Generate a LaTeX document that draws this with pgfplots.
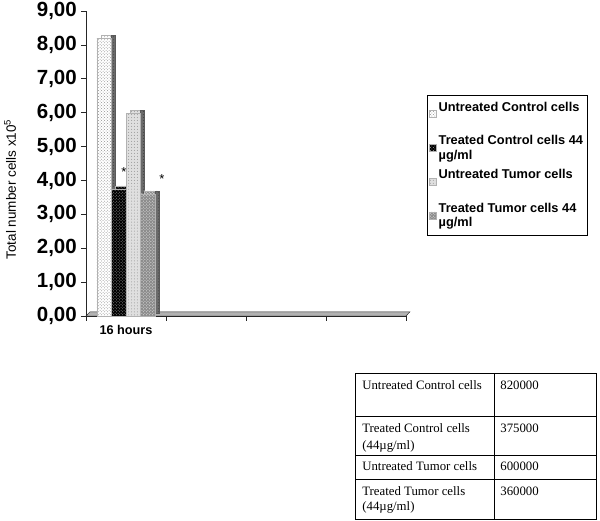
\documentclass[border=0pt]{standalone}
\usepackage{fontspec}
\setmainfont{Liberation Sans}
\newfontfamily\tabfont{Liberation Serif}
\usepackage{pgfplots}
\pgfplotsset{compat=1.18}
\usetikzlibrary{patterns}

% one value per series, category "16 hours" at x=0
\pgfplotstableread{
x v
0 8.20
}\uccells
\pgfplotstableread{
x v
0 3.75
}\tccells
\pgfplotstableread{
x v
0 6.00
}\utcells
\pgfplotstableread{
x v
0 3.60
}\ttcells

\pgfplotsset{
  sideface/.style={ybar, bar width=4bp, fill=black!58, draw=black!65, line width=0.2pt,
    xshift=4bp, yshift=3bp, forget plot, postaction={pattern=dots, pattern color=black!75}},
  topface/.style={ybar, bar width=14.5bp, xshift=4bp, yshift=3bp, forget plot},
  uc/.style={fill=white, draw=gray!60, line width=0.3pt, postaction={pattern=crosshatch dots, pattern color=gray!85}},
  tc/.style={fill=black, draw=gray!60, line width=0.3pt, postaction={pattern=crosshatch dots, pattern color=gray!75}},
  ut/.style={fill=gray!25, draw=gray!60, line width=0.3pt, postaction={pattern=dots, pattern color=gray!80}},
  tt/.style={fill=gray!90, draw=gray!60, line width=0.3pt, postaction={pattern=crosshatch dots, pattern color=white!85!gray}},
}

\begin{document}
\begin{tikzpicture}
\useasboundingbox (0,0) rectangle (600bp,521bp);
\begin{axis}[
  at={(86bp,205bp)}, anchor=south west,
  scale only axis, width=320bp, height=305bp,
  xmin=-0.5, xmax=3.5, ymin=0, ymax=9,
  enlargelimits=false, clip=false,
  axis x line=bottom, axis y line=left,
  axis line style={-, black!85, line width=0.6pt},
  tick align=outside, major tick length=5bp,
  tick style={black!85, line width=0.6pt},
  xtick={-0.5,0.5,1.5,2.5,3.5}, xticklabels={,,,,},
  extra x ticks={0}, extra x tick labels={16 hours},
  extra x tick style={major tick length=0pt,
    tick label style={font=\bfseries\fontsize{12.7bp}{14bp}\selectfont, yshift=-6bp}},
  ytick={0,1,...,9},
  /pgf/number format/assume math mode=true,
  yticklabel={\pgfmathprintnumber[fixed, fixed zerofill, precision=2, use comma]{\tick}},
  yticklabel style={font=\bfseries\fontsize{20.5bp}{24bp}\selectfont, inner sep=1bp, xshift=-3bp},
  ylabel={Total number cells x10\textsuperscript{5}},
  every axis y label/.style={at={(axis description cs:-0.2375,0.415)}, rotate=90, anchor=center,
    font=\fontsize{13.5bp}{15bp}\selectfont},
  legend style={at={(1.0656,0.7246)}, anchor=north west, draw=black, line width=0.7pt,
    inner xsep=2bp, inner ysep=4.5bp, row sep=4.5bp,
    font=\bfseries\fontsize{12.8bp}{14.5bp}\selectfont,
    nodes={inner sep=2bp},
    cells={anchor=west, align=left}},
  legend image code/.code={\draw[#1, line width=0.3pt] (0bp,-3bp) rectangle (7bp,4bp);},
]
% floor slab of the 3-D chart
\addplot[fill=gray!60, draw=gray!30!black, line width=0.4pt, forget plot]
  coordinates {(-0.5,0) (3.5,0) (3.55,0.12) (-0.45,0.12)} --cycle;

% Untreated Control cells
\addplot[topface, uc, bar shift=-21.75bp] table[x=x, y=v] {\uccells};
\addplot[sideface, bar shift=-16.5bp] table[x=x, y=v] {\uccells};
\addplot[ybar, bar width=14.5bp, bar shift=-21.75bp, uc] table[x=x, y=v] {\uccells};
\addlegendentry{Untreated Control cells\\\mbox{}}
% Treated Control cells 44 ug/ml
\addplot[topface, tc, bar shift=-7.25bp] table[x=x, y=v] {\tccells};
\addplot[sideface, bar shift=-2bp] table[x=x, y=v] {\tccells};
\addplot[ybar, bar width=14.5bp, bar shift=-7.25bp, tc] table[x=x, y=v] {\tccells};
\addlegendentry{Treated Control cells 44\\µg/ml}
% Untreated Tumor cells
\addplot[topface, ut, bar shift=7.25bp] table[x=x, y=v] {\utcells};
\addplot[sideface, bar shift=12.5bp] table[x=x, y=v] {\utcells};
\addplot[ybar, bar width=14.5bp, bar shift=7.25bp, ut] table[x=x, y=v] {\utcells};
\addlegendentry{Untreated Tumor cells\\\mbox{}}
% Treated Tumor cells 44 ug/ml
\addplot[topface, tt, bar shift=21.75bp] table[x=x, y=v] {\ttcells};
\addplot[sideface, bar shift=27bp] table[x=x, y=v] {\ttcells};
\addplot[ybar, bar width=14.5bp, bar shift=21.75bp, tt] table[x=x, y=v] {\ttcells};
\addlegendentry{Treated Tumor cells 44\\µg/ml}

% significance marks
\node[font=\fontsize{13bp}{14bp}\selectfont] at (axis cs:-0.025,4.25) {*};
\node[font=\fontsize{13bp}{14bp}\selectfont] at (axis cs:0.45,4.04) {*};
\end{axis}

% data table under the legend
\begin{scope}[line width=0.7pt, every node/.style={font=\tabfont\fontsize{12.8bp}{15bp}\selectfont, anchor=base west, inner sep=0pt}]
\draw (355bp,2bp) rectangle (596bp,148bp);
\draw (355bp,105bp) -- (596bp,105bp);
\draw (355bp,66bp) -- (596bp,66bp);
\draw (355bp,42bp) -- (596bp,42bp);
\draw (494bp,2bp) -- (494bp,148bp);
\node at (362bp,131bp) {Untreated Control cells};
\node at (500bp,131bp) {820000};
\node at (362bp,88bp) {Treated Control cells};
\node at (362bp,71bp) {(44µg/ml)};
\node at (500bp,88bp) {375000};
\node at (362bp,50bp) {Untreated Tumor cells};
\node at (500bp,50bp) {600000};
\node at (362bp,26bp) {Treated Tumor cells};
\node at (362bp,11bp) {(44µg/ml)};
\node at (500bp,26bp) {360000};
\end{scope}
\end{tikzpicture}
\end{document}
